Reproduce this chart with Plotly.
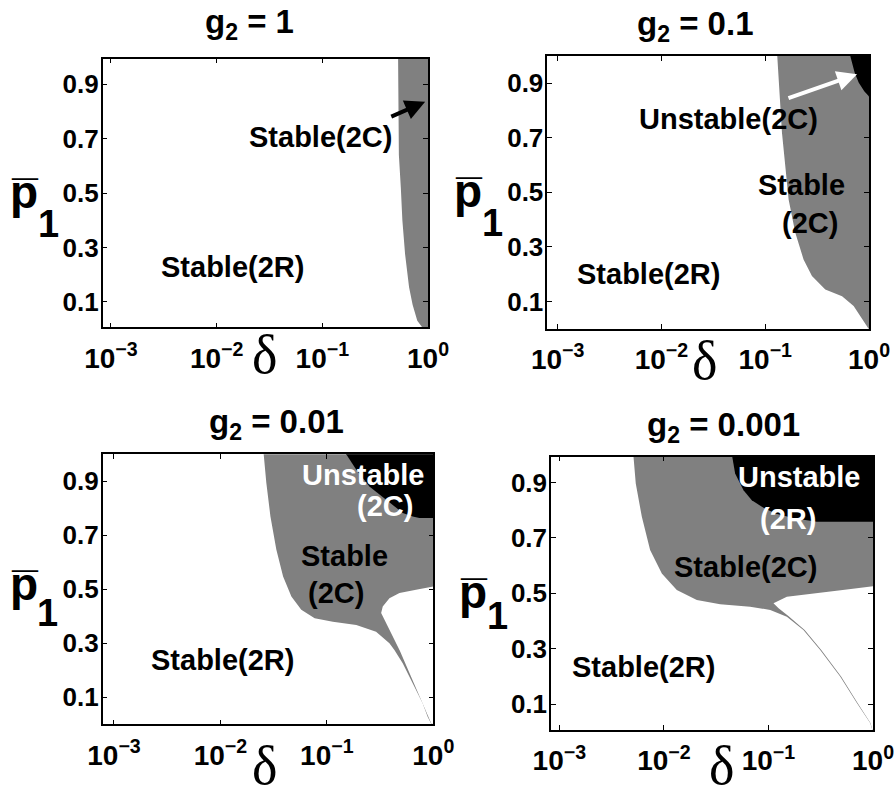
import numpy as np
import plotly.graph_objects as go

# ---------------- data ----------------
# Boundaries of the regions: delta (x, log axis) and p1bar (y)
# Panel 1: g2 = 1
P1_GRAY_D = [0.521, 0.524, 0.526, 0.530, 0.553, 0.572, 0.607, 0.662, 0.715, 0.792, 0.870]
P1_GRAY_P = [1.0, 0.88, 0.76, 0.64, 0.52, 0.40, 0.275, 0.154, 0.09, 0.031, 0.01]

# Panel 2: g2 = 0.1
P2_GRAY_D = [0.1306, 0.145, 0.168, 0.1946, 0.234, 0.282, 0.379, 0.55, 0.711, 0.857, 0.98]
P2_GRAY_P = [1.0, 0.719, 0.474, 0.353, 0.254, 0.193, 0.144, 0.119, 0.083, 0.034, 0.003]
P2_BLACK_D = [0.66, 0.728, 0.795, 0.90, 0.992, 1.0]
P2_BLACK_P = [1.0, 0.939, 0.9026, 0.871, 0.853, 0.850]

# Panel 3: g2 = 0.01
P3_GRAY_D = [0.0255, 0.027, 0.0295, 0.0335, 0.0388, 0.0464, 0.0575, 0.0768, 0.1138,
             0.189, 0.29, 0.387, 0.431, 0.516, 0.64, 0.794, 0.885, 0.95, 1.0]
P3_GRAY_P = [1.0, 0.894, 0.77, 0.647, 0.547, 0.473, 0.424, 0.393, 0.38,
             0.368, 0.343, 0.3, 0.275, 0.226, 0.152, 0.078, 0.028, 0.004, 0.0]
P3_BLACK_D = [0.152, 0.189, 0.251, 0.36, 0.516, 0.64, 0.74, 1.0]
P3_BLACK_P = [1.0, 0.943, 0.881, 0.832, 0.783, 0.770, 0.764, 0.764]
P3_LOBE_D = [1.0, 0.689, 0.481, 0.387, 0.335, 0.3236,
             0.355, 0.40, 0.445, 0.485, 0.545, 0.655, 0.80, 0.89, 0.955, 1.0]
P3_LOBE_P = [0.51, 0.498, 0.486, 0.467, 0.436, 0.412,
             0.38, 0.34, 0.30, 0.272, 0.226, 0.152, 0.078, 0.028, 0.004, 0.0]

# Panel 4: g2 = 0.001
P4_GRAY_D = [0.0051, 0.00538, 0.00615, 0.00738, 0.00955, 0.01328, 0.02064, 0.0345,
             0.0668, 0.104, 0.15, 0.216, 0.3125, 0.485, 0.701, 0.94, 1.0]
P4_GRAY_P = [1.0, 0.896, 0.776, 0.656, 0.572, 0.512, 0.476, 0.461,
             0.452, 0.44, 0.416, 0.368, 0.296, 0.2, 0.104, 0.032, 0.0]
P4_BLACK_D = [0.0447, 0.048, 0.0577, 0.0693, 0.0865, 0.116, 0.18, 0.29, 1.0]
P4_BLACK_P = [1.0, 0.932, 0.872, 0.836, 0.812, 0.788, 0.770, 0.758, 0.758]
P4_LOBE_D = [1.0, 0.562, 0.29, 0.15, 0.1117,
             0.125, 0.155, 0.222, 0.32, 0.495, 0.712, 0.945, 1.0]
P4_LOBE_P = [0.526, 0.514, 0.502, 0.488, 0.464,
             0.446, 0.418, 0.368, 0.296, 0.2, 0.104, 0.032, 0.0]

# In-panel labels: (text, delta, p, colour)
P1_TEXT = [("Stable(2C)", 0.097, 0.707, "black"), ("Stable(2R)", 0.01426, 0.23, "black")]
P2_TEXT = [("Unstable(2C)", 0.0443, 0.768, "black"), ("Stable", 0.222, 0.526, "black"),
           ("(2C)", 0.272, 0.389, "black"), ("Stable(2R)", 0.00748, 0.199, "black")]
P3_TEXT = [("Unstable", 0.218, 0.925, "white"), ("(2C)", 0.355, 0.807, "white"),
           ("Stable", 0.1466, 0.622, "black"), ("(2C)", 0.1225, 0.486, "black"),
           ("Stable(2R)", 0.01045, 0.238, "black")]
P4_TEXT = [("Unstable", 0.197, 0.92, "white"), ("(2R)", 0.155, 0.77, "white"),
           ("Stable(2C)", 0.0598, 0.596, "black"), ("Stable(2R)", 0.00637, 0.236, "black")]

# Arrows: (tail delta, tail p, head delta, head p, colour)
P1_ARROW = (0.435, 0.778, 0.94, 0.835, "black")
P2_ARROW = (0.162, 0.844, 0.767, 0.933, "white")

TITLES = ["g<sub>2</sub> = 1", "g<sub>2</sub> = 0.1", "g<sub>2</sub> = 0.01", "g<sub>2</sub> = 0.001"]
Y_LABEL_MAIN = "p\u0305"
Y_LABEL_SUB = "1"
X_LABEL = "\u03b4"
X_TICKVALS = [0.001, 0.01, 0.1, 1]
X_TICKTEXT = ["10<sup>\u22123</sup>", "10<sup>\u22122</sup>", "10<sup>\u22121</sup>", "10<sup>0</sup>"]
Y_TICKVALS = [0.1, 0.3, 0.5, 0.7, 0.9]
Y_TICKTEXT = ["0.1", "0.3", "0.5", "0.7", "0.9"]

# ---------------- layout (screen-pixel measurements) ----------------
FIG_W, FIG_H = 895, 804


def fx(px):
    return px / FIG_W


def fy(py):
    return 1 - py / FIG_H


# plot boxes: left, right, top, bottom (px)
BOXES = [(102.7, 428.0, 58.7, 327.3), (547.3, 869.0, 56.0, 328.7),
         (102.7, 433.3, 454.3, 724.3), (551.0, 873.0, 456.7, 730.0)]
XRANGES = [[-3.078, 0], [-3.10, 0], [-3.106, 0], [-3.08, 0]]
YRANGES = [[0.007, 0.993], [0.0, 1.0], [0.0, 1.0], [0.007, 0.993]]
TITLE_POS = [(249, 24.5), (695.8, 25.5), (276.7, 423.5), (723.3, 427)]
P_POS = [(23.5, 192), (468.3, 191), (24.3, 584.3), (473.3, 592)]
SUB_POS = [(48.5, 224), (492.7, 223), (47.4, 612.5), (497.2, 615.5)]
XLAB_POS = [(264, 355), (704, 361), (264, 766), (721, 766)]

GRAY = "#808080"
X_OUT, P_TOP, P_BOT = 1.35, 1.1, -0.1
SANS = "Liberation Sans, Arial, sans-serif"

fig = go.Figure()


def axn(i):
    return "" if i == 1 else str(i)


def poly(xs, ys, color, i):
    fig.add_trace(go.Scatter(x=xs, y=ys, mode="lines", fill="toself", fillcolor=color,
                             line=dict(width=0, color=color), hoverinfo="skip",
                             showlegend=False, xaxis="x" + axn(i), yaxis="y" + axn(i)))


def gray_region(d, p, i):
    poly(list(d) + [X_OUT, X_OUT, d[0]], list(p) + [P_BOT, P_TOP, P_TOP], GRAY, i)


def black_region(d, p, i):
    poly(list(d) + [X_OUT, X_OUT, d[0]], list(p) + [p[-1], P_TOP, P_TOP], "black", i)


def white_lobe(d, p, i):
    poly([X_OUT] + list(d) + [X_OUT], [p[0]] + list(p) + [P_BOT], "white", i)


gray_region(P1_GRAY_D, P1_GRAY_P, 1)
gray_region(P2_GRAY_D, P2_GRAY_P, 2)
black_region(P2_BLACK_D, P2_BLACK_P, 2)
gray_region(P3_GRAY_D, P3_GRAY_P, 3)
black_region(P3_BLACK_D, P3_BLACK_P, 3)
white_lobe(P3_LOBE_D, P3_LOBE_P, 3)
gray_region(P4_GRAY_D, P4_GRAY_P, 4)
black_region(P4_BLACK_D, P4_BLACK_P, 4)
white_lobe(P4_LOBE_D, P4_LOBE_P, 4)

annotations = []
for i, texts in enumerate([P1_TEXT, P2_TEXT, P3_TEXT, P4_TEXT], start=1):
    for t, d, p, c in texts:
        annotations.append(dict(text=t, x=np.log10(d), y=p, xref="x" + axn(i), yref="y" + axn(i),
                                showarrow=False, xanchor="center", yanchor="middle",
                                font=dict(family=SANS, size=29, color=c, weight="bold")))

for i, (td, tp, hd, hp, c) in [(1, P1_ARROW), (2, P2_ARROW)]:
    annotations.append(dict(text="", x=np.log10(hd), y=hp, ax=np.log10(td), ay=tp,
                            xref="x" + axn(i), yref="y" + axn(i), axref="x" + axn(i), ayref="y" + axn(i),
                            showarrow=True, arrowhead=2, arrowsize=1.0, arrowwidth=4, arrowcolor=c,
                            standoff=0, startstandoff=0))

for k in range(4):
    tx, ty = TITLE_POS[k]
    annotations.append(dict(text=TITLES[k], x=fx(tx), y=fy(ty), xref="paper", yref="paper",
                            showarrow=False, xanchor="center", yanchor="middle",
                            font=dict(family=SANS, size=33, color="black", weight="bold")))
    px_, py_ = P_POS[k]
    annotations.append(dict(text=Y_LABEL_MAIN, x=fx(px_), y=fy(py_), xref="paper", yref="paper",
                            showarrow=False, xanchor="center", yanchor="middle", borderpad=0,
                            font=dict(family=SANS, size=46, color="black", weight="bold")))
    sx, sy = SUB_POS[k]
    annotations.append(dict(text=Y_LABEL_SUB, x=fx(sx), y=fy(sy), xref="paper", yref="paper",
                            showarrow=False, xanchor="center", yanchor="middle", borderpad=0,
                            font=dict(family=SANS, size=38, color="black", weight="bold")))
    dx, dy = XLAB_POS[k]
    annotations.append(dict(text=X_LABEL, x=fx(dx), y=fy(dy), xref="paper", yref="paper",
                            showarrow=False, xanchor="center", yanchor="middle",
                            font=dict(family="Liberation Serif, serif", size=54, color="black")))

layout = dict(width=FIG_W, height=FIG_H, margin=dict(l=0, r=0, t=0, b=0, pad=0),
              paper_bgcolor="white", plot_bgcolor="white", showlegend=False,
              annotations=annotations)

for k in range(4):
    i = k + 1
    l, r, t, b = BOXES[k]
    layout["xaxis" + axn(i)] = dict(
        type="log", domain=[fx(l), fx(r)], range=XRANGES[k], anchor="y" + axn(i),
        tickvals=X_TICKVALS, ticktext=X_TICKTEXT, ticks="inside", ticklen=5, tickwidth=1,
        tickcolor="black", showline=True, linecolor="black", linewidth=1.5, mirror="ticks",
        showgrid=False, zeroline=False, ticklabelstandoff=5, automargin=False,
        tickfont=dict(family=SANS, size=28, color="black", weight="bold"))
    layout["yaxis" + axn(i)] = dict(
        domain=[fy(b), fy(t)], range=YRANGES[k], anchor="x" + axn(i),
        tickvals=Y_TICKVALS, ticktext=Y_TICKTEXT, ticks="inside", ticklen=5, tickwidth=1,
        tickcolor="black", showline=True, linecolor="black", linewidth=1.5, mirror="ticks",
        showgrid=False, zeroline=False, ticklabelstandoff=-3, automargin=False,
        tickfont=dict(family=SANS, size=26, color="black", weight="bold"))

fig.update_layout(**layout)
fig.write_html("out.html", config={"displayModeBar": False},
               post_script="document.body.style.margin='0px'; document.body.style.overflow='hidden';")
